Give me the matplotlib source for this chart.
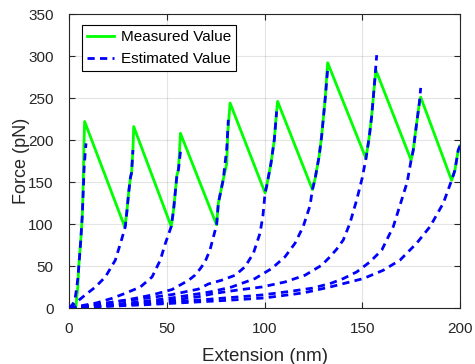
import matplotlib
matplotlib.use("Agg")
import matplotlib.pyplot as plt

# Measured (green sawtooth)
meas_x = [3.5, 4.5, 5.0, 6.0, 6.8, 7.3, 7.6, 8.0,
          28.6, 29.7, 30.5, 31.4, 32.0, 32.7, 33.1,
          52.3, 53.5, 55.2, 56.0, 57.0,
          75.5, 76.4, 78.9, 80.7, 81.2, 82.4,
          100.3, 101.1, 103.3, 105.0, 106.2, 106.7,
          124.5, 125.8, 127.9, 129.2, 131.0, 132.3,
          151.9, 153.6, 154.8, 156.0, 157.0,
          175.0, 176.1, 177.5, 179.2, 179.9,
          195.7, 197.4, 199.1, 200.0]
meas_y = [1, 25, 50, 80, 110, 150, 190, 222,
          96, 117, 137, 155, 161, 188, 216,
          97, 117, 158, 165, 208,
          99, 125, 153, 172, 208, 244,
          137, 145, 172, 200, 234, 246,
          141, 153, 180, 204, 248, 292,
          178, 204, 228, 260, 283,
          176, 188, 214, 244, 251,
          152, 164, 188, 193]

# Estimated (blue dashed) curves
est1_x = [0, 1, 2, 3, 3.9, 4.5, 5.0, 6.0, 6.8, 7.3, 7.7, 8.3, 8.7]
est1_y = [0, 2, 5, 10, 23, 35, 49, 80, 110, 140, 165, 185, 196]

est2_x = [0, 4.1, 8.3, 13.5, 18.6, 23.7, 27.1, 28.8, 29.7, 30.5, 31.4, 32.0, 32.7]
est2_y = [0, 7.5, 15.5, 25, 37, 57, 83, 97, 117, 137, 155, 161, 188]

est3_x = [0, 7, 14, 22, 28.8, 36.5, 42.5, 46.7, 49.3, 52.3, 53.5, 55.2, 56.0, 57.0]
est3_y = [0, 3, 6, 11.5, 17.5, 25, 37, 57, 77, 97, 117, 158, 165, 186]

est4_x = [0, 10, 18.6, 30.5, 42.5, 52.7, 61.2, 64.4, 67.2, 69.6, 72.1, 75.5, 76.4, 78.9, 80.7, 81.5]
est4_y = [0, 3, 5.5, 10, 15.5, 22, 33, 39, 47, 55, 69, 99, 125, 153, 190, 224]

est5_x = [0, 14.3, 23.7, 39, 52.7, 66.2, 71.3, 78, 85, 90, 94.3, 97.7, 99.2, 100.3, 101.1, 103.3, 105.0, 106.2]
est5_y = [0, 4, 7.5, 11.5, 16, 22.5, 28.6, 33, 39, 49, 65, 89, 110, 137, 145, 172, 200, 234]

est6_x = [0, 20, 39, 52.7, 66.4, 73, 83.2, 95.1, 103.7, 110.5, 115.6, 119.8, 123.3, 124.5, 125.8, 127.9, 129.2, 131.0, 132.3]
est6_y = [0, 3.5, 8, 12, 17, 19.5, 25, 35, 47, 61, 77, 97, 122, 141, 153, 180, 204, 248, 284]

est7_x = [0, 20, 40, 55, 66.4, 74.7, 86.6, 98.6, 110.5, 120.7, 129.3, 133.5, 136.9, 140.3, 143.7, 147.2, 150.0, 151.9, 153.6, 154.8, 156.0, 157.4]
est7_y = [0, 3, 6.5, 10, 13.5, 17.5, 21.5, 25, 31, 39, 51, 61, 70, 81, 101, 129, 155, 178, 204, 228, 260, 301]

est8_x = [0, 20, 40, 55, 66.4, 74.7, 88.3, 98.6, 112.2, 124.1, 133.5, 140.3, 147.2, 154.0, 160.0, 165.9, 170.2, 173.0, 175.0, 176.1, 177.5, 179.2, 179.9]
est8_y = [0, 2.5, 5, 7.5, 9.5, 11, 13.5, 15.5, 19.5, 23.5, 29, 35, 43, 55, 69, 97, 129, 150, 176, 188, 214, 244, 262]

est9_x = [0, 20, 40, 60, 80, 100, 120, 133.5, 140.3, 150.5, 160.8, 169.3, 177.8, 184.7, 191.5, 195.7, 197.4, 199.1, 200.0]
est9_y = [0, 2, 4, 6.5, 9, 12, 18, 25, 29, 35, 45, 57, 77, 97, 125, 152, 164, 188, 193]

est_x = [est1_x, est2_x, est3_x, est4_x, est5_x, est6_x, est7_x, est8_x, est9_x]
est_y = [est1_y, est2_y, est3_y, est4_y, est5_y, est6_y, est7_y, est8_y, est9_y]

x_ticks = [0, 50, 100, 150, 200]
y_ticks = [0, 50, 100, 150, 200, 250, 300, 350]

plt.rcParams['font.family'] = ['Liberation Sans', 'DejaVu Sans']
dark = (0.15, 0.15, 0.15)

fig = plt.figure(figsize=(4.75, 3.64), dpi=100)
ax = fig.add_axes([69/475, 1-308/364, (460-69)/475, (308-14)/364])

ax.plot(meas_x, meas_y, color=(0, 1, 0), lw=2.0, label='Measured Value', zorder=3)
for i, (xs, ys) in enumerate(zip(est_x, est_y)):
    ax.plot(xs, ys, color=(0, 0, 1), lw=2.0, dashes=(2.6, 1.9),
            label='Estimated Value' if i == 0 else None, zorder=4)

ax.set_xlim(0, 200)
ax.set_ylim(0, 350)
ax.set_xticks(x_ticks)
ax.set_yticks(y_ticks)
ax.grid(True, color=(0.15, 0.15, 0.15), alpha=0.12, lw=0.8)
ax.set_axisbelow(True)
ax.tick_params(direction='in', top=True, right=True, length=4, width=0.8,
               colors=dark, labelsize=11)
ax.tick_params(axis='y', pad=11)
ax.tick_params(axis='x', pad=10)
for s in ax.spines.values():
    s.set_color(dark)
    s.set_linewidth(0.8)
ax.set_xlabel('Extension (nm)', fontsize=13.5, color=dark, labelpad=9)
ax.set_ylabel('Force (pN)', fontsize=13, color=dark, labelpad=-1)

leg = ax.legend(loc='upper left', bbox_to_anchor=(0.033, 0.963), fontsize=11,
                frameon=True, fancybox=False, handlelength=1.75,
                borderpad=0.35, labelspacing=0.5, handletextpad=0.45, borderaxespad=0)
leg.get_frame().set_edgecolor('black')
leg.get_frame().set_linewidth(0.8)
leg.get_frame().set_alpha(1)

fig.savefig('out.png', dpi=100)
